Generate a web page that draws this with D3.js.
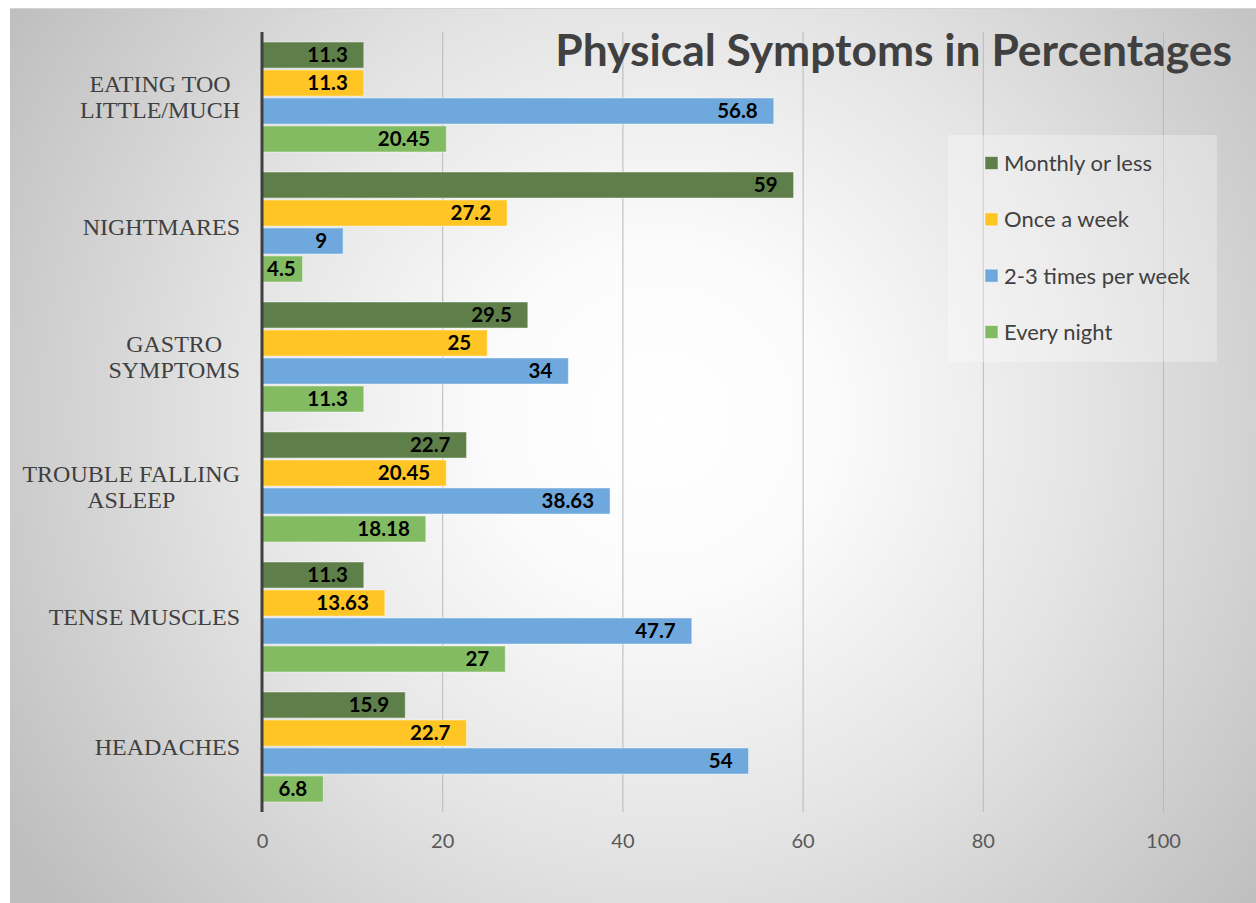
<!DOCTYPE html>
<html>
<head>
<meta charset="utf-8">
<script src="https://cdn.jsdelivr.net/npm/d3@7"></script>
<style>
  html, body { margin: 0; padding: 0; background: #ffffff; }
  svg { display: block; }
</style>
</head>
<body>
<svg id="chart" width="1256" height="903"></svg>
<script>
// Symptom categories, top to bottom ("\n" marks a line break in the label)
const categories = [
  "EATING TOO\nLITTLE/MUCH",
  "NIGHTMARES",
  "GASTRO\nSYMPTOMS",
  "TROUBLE FALLING\nASLEEP",
  "TENSE MUSCLES",
  "HEADACHES"
];

// Frequency series
const seriesNames = ["Monthly or less", "Once a week", "2-3 times per week", "Every night"];
const seriesColors = ["#5e7f4a", "#ffc524", "#6fa8dc", "#82bb62"];

// Percentages per category, one array per series
const monthlyOrLess  = [11.3, 59,   29.5, 22.7,  11.3,  15.9];
const onceAWeek      = [11.3, 27.2, 25,   20.45, 13.63, 22.7];
const twoThreeWeekly = [56.8, 9,    34,   38.63, 47.7,  54];
const everyNight     = [20.45, 4.5, 11.3, 18.18, 27,    6.8];

const xTicks = [0, 20, 40, 60, 80, 100];
const titleText = "Physical Symptoms in Percentages";

const seriesValues = [monthlyOrLess, onceAWeek, twoThreeWeekly, everyNight];

const svg = d3.select("#chart");
const W = 1256, H = 903;

// Background panel with radial shading
const defs = svg.append("defs");
const grad = defs.append("radialGradient")
  .attr("id", "bg").attr("gradientUnits", "userSpaceOnUse")
  .attr("cx", 660).attr("cy", 420).attr("r", 780);
grad.append("stop").attr("offset", "0%").attr("stop-color", "#ffffff");
grad.append("stop").attr("offset", "22%").attr("stop-color", "#fbfbfb");
grad.append("stop").attr("offset", "55%").attr("stop-color", "#e4e4e4");
grad.append("stop").attr("offset", "100%").attr("stop-color", "#bdbdbd");

svg.append("rect").attr("x", 10).attr("y", 8).attr("width", W - 10).attr("height", H - 8)
  .attr("fill", "url(#bg)");
svg.append("line").attr("x1", 10).attr("x2", W).attr("y1", 8.5).attr("y2", 8.5)
  .attr("stroke", "#d4d4d4").attr("stroke-width", 1);

// Scales
const plotTop = 32, plotBottom = 812;
const x = d3.scaleLinear().domain([0, 100]).range([262, 1163]);
const y = d3.scaleBand().domain(categories).range([plotTop, plotBottom])
  .paddingInner(20 / 130).paddingOuter(10 / 130);
const ySub = d3.scaleBand().domain(seriesNames).range([0, y.bandwidth()]).paddingInner(0.07);

// Vertical gridlines
svg.append("g")
  .attr("transform", `translate(0,${plotBottom})`)
  .call(d3.axisBottom(x).tickValues(xTicks).tickSize(-(plotBottom - plotTop)).tickFormat(""))
  .call(g => g.select(".domain").remove())
  .call(g => g.selectAll(".tick line").attr("stroke", "#b9b9b9").attr("stroke-width", 1));

// Title
const title = svg.append("text")
  .attr("x", 1232).attr("y", 66)
  .attr("text-anchor", "end")
  .attr("font-family", "Lato, 'Open Sans', sans-serif")
  .attr("font-weight", 700)
  .attr("font-size", 46)
  .attr("fill", "#404040")
  .text(titleText);
{
  const w = title.node().getComputedTextLength();
  title.attr("font-size", 46 * 677 / w);
}

// Bars
const rows = [];
categories.forEach((c, ci) => {
  seriesNames.forEach((s, si) => {
    rows.push({ cat: c, series: s, si, value: seriesValues[si][ci] });
  });
});

const barG = svg.append("g");
barG.selectAll("rect").data(rows).join("rect")
  .attr("x", x(0))
  .attr("y", d => y(d.cat) + ySub(d.series))
  .attr("width", d => x(d.value) - x(0))
  .attr("height", ySub.bandwidth())
  .attr("fill", d => seriesColors[d.si])
  .attr("stroke", "rgba(255,255,255,0.45)")
  .attr("stroke-width", 1);

// Value labels at the inside end of each bar
const labels = barG.selectAll("text").data(rows).join("text")
  .attr("y", d => y(d.cat) + ySub(d.series) + ySub.bandwidth() / 2)
  .attr("dy", "0.36em")
  .attr("text-anchor", "end")
  .attr("font-family", "Lato, 'Open Sans', sans-serif")
  .attr("font-weight", 700)
  .attr("font-size", 20.5)
  .attr("fill", "#000000")
  .text(d => String(d.value));
labels.each(function(d) {
  const w = this.getComputedTextLength();
  const xe = Math.max(x(d.value) - 16, x(0) + 5 + w);
  d3.select(this).attr("x", xe);
});

// Category axis line
svg.append("g")
  .attr("transform", `translate(${x(0)},0)`)
  .call(d3.axisLeft(y).tickSize(0).tickFormat(""))
  .call(g => g.select(".domain").attr("stroke", "#404040").attr("stroke-width", 3)
    .attr("d", `M0,${plotTop}V${plotBottom}`));

// Category labels (multi-line, centred as a block ending near the axis)
const catG = svg.append("g");
categories.forEach(c => {
  const lines = c.split("\n");
  const cy = y(c) + y.bandwidth() / 2;
  const lh = 26;
  const t = catG.append("text")
    .attr("font-family", "'Liberation Serif', 'Times New Roman', serif")
    .attr("font-size", 24)
    .attr("fill", "#404040")
    .attr("text-anchor", "middle");
  const spans = lines.map((ln, i) => t.append("tspan")
    .attr("y", cy + (i - (lines.length - 1) / 2) * lh)
    .attr("dy", "0.35em")
    .text(ln));
  const maxW = d3.max(spans, s => s.node().getComputedTextLength());
  spans.forEach(s => s.attr("x", 240 - maxW / 2));
});

// X tick labels
svg.append("g")
  .attr("transform", `translate(0,${plotBottom})`)
  .call(d3.axisBottom(x).tickValues(xTicks).tickSize(0).tickPadding(22))
  .call(g => g.select(".domain").remove())
  .call(g => g.selectAll("text")
    .attr("font-family", "Lato, 'Open Sans', sans-serif")
    .attr("font-size", 20)
    .attr("fill", "#595959"));

// Legend
const lg = svg.append("g");
lg.append("rect").attr("x", 948).attr("y", 135).attr("width", 269).attr("height", 227)
  .attr("fill", "rgba(255,255,255,0.3)");
const legendY = d3.scalePoint().domain(seriesNames).range([163, 332]);
seriesNames.forEach((s, i) => {
  const cy = legendY(s);
  lg.append("rect").attr("x", 985).attr("y", cy - 6.5).attr("width", 13).attr("height", 13)
    .attr("fill", seriesColors[i]).attr("stroke", "rgba(255,255,255,0.5)");
  lg.append("text").attr("x", 1004).attr("y", cy).attr("dy", "0.36em")
    .attr("font-family", "Lato, 'Open Sans', sans-serif")
    .attr("font-size", 22)
    .attr("fill", "#404040")
    .text(s);
});
</script>
</body>
</html>
